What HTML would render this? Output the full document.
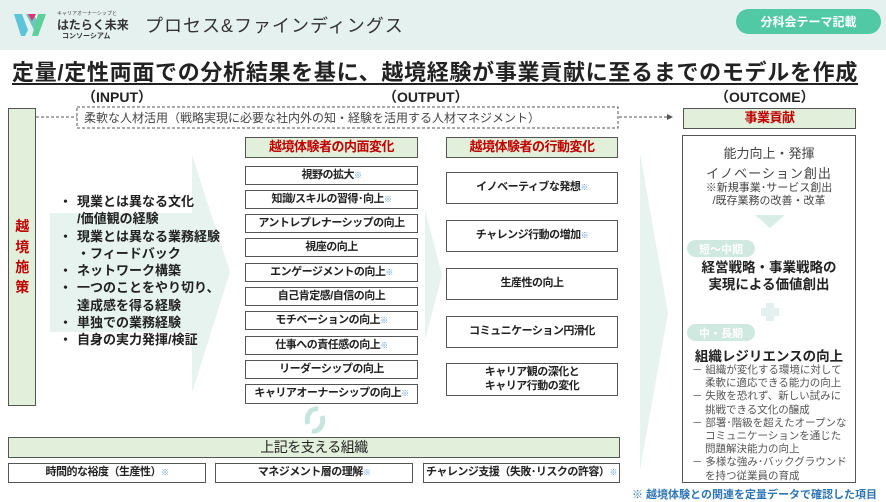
<!DOCTYPE html>
<html><head><meta charset="utf-8"><style>
*{margin:0;padding:0;box-sizing:border-box}
body{width:886px;height:500px;overflow:hidden;background:#fff;position:relative;font-family:"Liberation Sans","Noto Sans CJK JP",sans-serif;color:#222}
.a{position:absolute}
.c{display:flex;align-items:center;justify-content:center;text-align:center}
.bx{position:absolute;border:1.3px solid #555;background:#fff;display:flex;align-items:center;justify-content:center;text-align:center;font-weight:bold;font-size:11px;letter-spacing:-0.5px;line-height:1.25}
.g{background:#e2efda}
.r{color:#c00000}
.s{color:#5b9bd5;font-size:8px;vertical-align:super;font-weight:normal}
.bl div{height:17.3px;line-height:17.3px;white-space:nowrap;position:relative;padding-left:15px}
.bl div.b::before{content:"・";position:absolute;left:-3px;top:0}
.ob div{white-space:nowrap}
</style></head><body>
<div class="a" style="left:0;top:0;width:886px;height:50px;background:#e5f1ee"></div>
<svg class="a" style="left:12px;top:10px" width="44" height="28" viewBox="0 0 44 28">
<path d="M2 4 L10 4 L16 20 L13 26 L9 26 Z" fill="#5bc4d8"/>
<path d="M14 4 L22 4 L27 16 L24 24 Z" fill="#6cc6c0"/>
<path d="M26 4 L34 4 L26 26 L20 26 Z" fill="#5ccf9a"/>
<path d="M16 4 L24 4 L20 11 Z" fill="#e0307c"/>
</svg>
<div class="a" style="left:57px;top:10px;font-size:5px;color:#444">キャリアオーナーシップと</div>
<div class="a" style="left:57px;top:16px;font-size:12px;font-weight:bold;color:#333">はたらく未来</div>
<div class="a" style="left:62px;top:31px;font-size:7px;font-weight:bold;color:#333">コンソーシアム</div>
<div class="a" style="left:145px;top:12px;font-size:18px;letter-spacing:1px;color:#333;white-space:nowrap">プロセス&amp;ファインディングス</div>
<div class="a c" style="left:736px;top:9px;width:145px;height:25px;border-radius:13px;background:#52c9a5;color:#fff;font-size:12px;font-weight:bold">分科会テーマ記載</div>
<div class="a" style="left:12px;top:55px;font-size:22px;font-weight:bold;color:#222;text-decoration:underline;text-underline-offset:3px;letter-spacing:0.7px;white-space:nowrap">定量/定性両面での分析結果を基に、越境経験が事業貢献に至るまでのモデルを作成</div>
<div class="a" style="left:82px;top:87px;font-size:14px;font-weight:bold">（INPUT）</div>
<div class="a" style="left:383px;top:87px;font-size:14px;font-weight:bold">（OUTPUT）</div>
<div class="a" style="left:715px;top:87px;font-size:14px;font-weight:bold">（OUTCOME）</div>

<svg class="a" style="left:0;top:0" width="886" height="500">
<polygon points="50,213 192,213 192,155 230,272 192,393 192,332 50,332" fill="#e6f3ef"/>
<polygon points="425,210 442,275 425,340" fill="#e6f3ef"/>
<polygon points="640,153 668,313 640,470" fill="#e6f3ef"/>
<line x1="36" y1="117" x2="77" y2="117" stroke="#555" stroke-dasharray="3,2"/>
<line x1="619" y1="117" x2="668" y2="117" stroke="#555" stroke-dasharray="3,2"/>
<polygon points="667,114 673,117 667,120" fill="#555"/>
<rect x="77" y="107" width="541" height="21" fill="none" stroke="#555" stroke-dasharray="3,2"/>
<path d="M308 424 A9 11 0 0 1 318 409" stroke="#c5e6dc" stroke-width="5" fill="none"/>
<path d="M322 416 A9 11 0 0 1 312 431" stroke="#c5e6dc" stroke-width="5" fill="none"/>
<polygon points="755,215 785,215 770,228" fill="#d7ede6"/>
<rect x="766" y="303" width="8" height="18" fill="#e3f1ee"/><rect x="761" y="308" width="18" height="8" fill="#e3f1ee"/>
</svg>
<div class="a" style="left:84px;top:109px;font-size:12px;color:#444;white-space:nowrap">柔軟な人材活用（戦略実現に必要な社内外の知・経験を活用する人材マネジメント）</div>

<div class="bx g r" style="left:8px;top:108px;width:28px;height:298px;font-size:14px;line-height:1.45">越<br>境<br>施<br>策</div>
<div class="bx g r" style="left:683px;top:108px;width:173px;height:21px;font-size:13px">事業貢献</div>

<div class="a bl" style="left:62px;top:193px;font-size:13px;font-weight:bold;color:#222">
<div class="b">現業とは異なる文化</div><div>/価値観の経験</div>
<div class="b">現業とは異なる業務経験</div><div>・フィードバック</div>
<div class="b">ネットワーク構築</div>
<div class="b">一つのことをやり切り、</div><div>達成感を得る経験</div>
<div class="b">単独での業務経験</div>
<div class="b">自身の実力発揮/検証</div>
</div>

<div class="bx g r" style="left:245px;top:137px;width:173px;height:21px;font-size:13px">越境体験者の内面変化</div>
<div class="bx" style="left:245px;top:166px;width:173px;height:19px">視野の拡大<span class="s">※</span></div>
<div class="bx" style="left:245px;top:190px;width:173px;height:19px">知識/スキルの習得･向上<span class="s">※</span></div>
<div class="bx" style="left:245px;top:214px;width:173px;height:19px">アントレプレナーシップの向上</div>
<div class="bx" style="left:245px;top:238px;width:173px;height:19px">視座の向上</div>
<div class="bx" style="left:245px;top:263px;width:173px;height:19px">エンゲージメントの向上<span class="s">※</span></div>
<div class="bx" style="left:245px;top:287px;width:173px;height:19px">自己肯定感/自信の向上</div>
<div class="bx" style="left:245px;top:311px;width:173px;height:19px">モチベーションの向上<span class="s">※</span></div>
<div class="bx" style="left:245px;top:336px;width:173px;height:19px">仕事への責任感の向上<span class="s">※</span></div>
<div class="bx" style="left:245px;top:360px;width:173px;height:19px">リーダーシップの向上</div>
<div class="bx" style="left:245px;top:384px;width:173px;height:20px">キャリアオーナーシップの向上<span class="s">※</span></div>

<div class="bx g r" style="left:446px;top:137px;width:172px;height:21px;font-size:13px">越境体験者の行動変化</div>
<div class="bx" style="left:446px;top:172px;width:172px;height:32px">イノベーティブな発想<span class="s">※</span></div>
<div class="bx" style="left:446px;top:220px;width:172px;height:32px">チャレンジ行動の増加<span class="s">※</span></div>
<div class="bx" style="left:446px;top:268px;width:172px;height:32px">生産性の向上</div>
<div class="bx" style="left:446px;top:316px;width:172px;height:32px">コミュニケーション円滑化</div>
<div class="bx" style="left:446px;top:363px;width:172px;height:33px">キャリア観の深化と<br>キャリア行動の変化</div>

<div class="a" style="left:682px;top:135px;width:174px;height:348px;border:1.3px solid #555"></div>
<div class="a ob" style="left:683px;top:143px;width:172px;text-align:center;color:#444">
<div style="font-size:13px;height:20px">能力向上・発揮</div>
<div style="font-size:13px;height:16px;letter-spacing:1px">イノベーション創出</div>
<div style="font-size:11px;height:13px">※新規事業･サービス創出</div>
<div style="font-size:11px;height:13px">/既存業務の改善・改革</div>
</div>
<div class="a c" style="left:687px;top:240px;width:68px;height:17px;border-radius:9px;background:#cfe9e0;color:#fff;font-size:11px;font-weight:bold">短～中期</div>
<div class="a ob" style="left:683px;top:259px;width:172px;text-align:center;font-size:13.5px;font-weight:bold;line-height:17px;color:#222"><div>経営戦略・事業戦略の</div><div>実現による価値創出</div></div>
<div class="a c" style="left:687px;top:324px;width:68px;height:17px;border-radius:9px;background:#cfe9e0;color:#fff;font-size:11px;font-weight:bold">中・長期</div>
<div class="a ob" style="left:683px;top:345px;width:172px;text-align:center;font-size:13.5px;font-weight:bold;color:#222">組織レジリエンスの向上</div>
<div class="a ob" style="left:692px;top:364px;font-size:10.5px;line-height:13.2px;color:#555">
<div>－ 組織が変化する環境に対して</div><div style="padding-left:13px">柔軟に適応できる能力の向上</div>
<div>－ 失敗を恐れず、新しい試みに</div><div style="padding-left:13px">挑戦できる文化の醸成</div>
<div>－ 部署･階級を超えたオープンな</div><div style="padding-left:13px">コミュニケーションを通じた</div><div style="padding-left:13px">問題解決能力の向上</div>
<div>－ 多様な強み･バックグラウンド</div><div style="padding-left:13px">を持つ従業員の育成</div>
</div>

<div class="bx g" style="left:8px;top:437px;width:612px;height:21px;font-size:14px;font-weight:normal;color:#222">上記を支える組織</div>
<div class="bx" style="left:8px;top:463px;width:198px;height:20px">時間的な裕度（生産性）<span class="s">※</span></div>
<div class="bx" style="left:215px;top:463px;width:198px;height:20px">マネジメント層の理解<span class="s">※</span></div>
<div class="bx" style="left:423px;top:463px;width:197px;height:20px">チャレンジ支援（失敗･リスクの許容）<span class="s">※</span></div>
<div class="a" style="left:632px;top:486px;font-size:11px;font-weight:bold;color:#2e75b6;white-space:nowrap">※ 越境体験との関連を定量データで確認した項目</div>
</body></html>
